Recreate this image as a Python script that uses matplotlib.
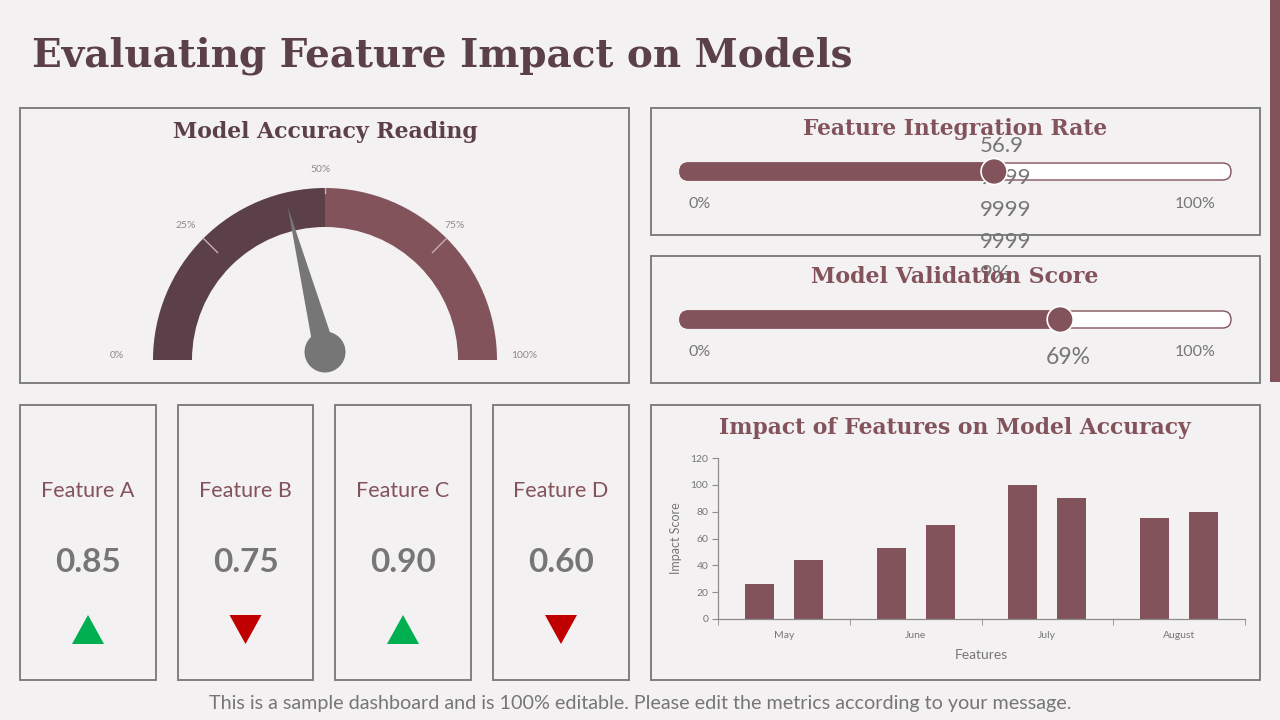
import numpy as np
import matplotlib
matplotlib.use("Agg")
import matplotlib.pyplot as plt
from matplotlib.patches import Rectangle, Wedge, Polygon, Circle, FancyBboxPatch

# ---------------- data ----------------
title = "Evaluating Feature Impact on Models"
gauge_title = "Model Accuracy Reading"
gauge_value = 42          # percent
gauge_ticks = [0, 25, 50, 75, 100]

progress_titles = ["Feature Integration Rate", "Model Validation Score"]
progress_values = [0.57, 0.69]

feature_names = ["Feature A", "Feature B", "Feature C", "Feature D"]
feature_scores = [0.85, 0.75, 0.90, 0.60]
feature_trend = ["up", "down", "up", "down"]

bar_title = "Impact of Features on Model Accuracy"
months = ["May", "June", "July", "August"]
series1 = [26, 53, 100, 75]
series2 = [44, 70, 90, 80]

footer = "This is a sample dashboard and is 100% editable. Please edit the metrics according to your message."

# ---------------- style ----------------
BG = "#F4F1F2"
DARK = "#5C4049"
MAUVE = "#83535B"
GRAY = "#767676"
EDGE = "#7F7F7F"
GREEN = "#00B050"
RED = "#C00000"
SERIF = ["DejaVu Serif"]
SANS = ["Lato", "DejaVu Sans"]

fig = plt.figure(figsize=(12.8, 7.2), dpi=100, facecolor=BG)
ax = fig.add_axes([0, 0, 1, 1])
ax.set_xlim(0, 1280)
ax.set_ylim(720, 0)
ax.axis("off")
ax.set_facecolor(BG)

fit_list = []

def txt(x, y, s, width=None, **kw):
    t = ax.text(x, y, s, **kw)
    if width is not None:
        fit_list.append((t, width))
    return t

def box(x0, y0, x1, y1):
    ax.add_patch(Rectangle((x0, y0), x1 - x0, y1 - y0, fill=False,
                           edgecolor=EDGE, lw=1.4, zorder=1))

# accent bar on right
ax.add_patch(Rectangle((1270, 0), 10, 382, color=MAUVE, lw=0, zorder=1))

# main title
txt(32, 56, title, width=820, ha="left", va="center", family=SERIF,
    weight="bold", color=DARK, fontsize=28)

# ---------------- gauge ----------------
box(20, 108, 629, 383)
txt(325, 132, gauge_title, width=306, ha="center", va="center", family=SERIF,
    weight="bold", color=DARK, fontsize=16)
cx, cy, R, r = 325, 360, 172, 133
# inverted y: visual angle a -> data angle -a
ax.add_patch(Wedge((cx, cy), R, 180, 270, width=R - r, facecolor=DARK, edgecolor="none", zorder=2))
ax.add_patch(Wedge((cx, cy), R, 270, 360, width=R - r, facecolor=MAUVE, edgecolor="none", zorder=2))
for tv in [25, 75]:
    a = np.deg2rad(180 - tv * 1.8)
    ax.plot([cx + (R - 20) * np.cos(a), cx + R * np.cos(a)],
            [cy - (R - 20) * np.sin(a), cy - R * np.sin(a)],
            color="#C9AEB3", lw=1.0, zorder=3)
ax.plot([cx, cx], [cy - R, cy - R + 5], color="#C9AEB3", lw=1.0, zorder=3)
label_pos = {0: (117, 355), 25: (186, 225), 50: (321, 169), 75: (455, 225), 100: (524, 355)}
for tv in gauge_ticks:
    lx, ly = label_pos[tv]
    txt(lx, ly, f"{tv}%", ha="center", va="center", family=SANS, color="#8C8C8C", fontsize=7.5)
# needle
hx, hy = 325, 352
ang = np.deg2rad(180 - gauge_value * 1.8)
L = 150
tip = (hx + L * np.cos(ang), hy - L * np.sin(ang))
perp = np.array([np.sin(ang), np.cos(ang)])
hw = 11
b1 = (hx + hw * perp[0], hy + hw * perp[1])
b2 = (hx - hw * perp[0], hy - hw * perp[1])
ax.add_patch(Polygon([tip, b1, b2], closed=True, facecolor=GRAY, edgecolor="none", zorder=4))
ax.add_patch(Circle((hx, hy), 20.5, facecolor=GRAY, edgecolor="none", zorder=4))

# ---------------- progress bars ----------------
prog_boxes = [(108, 235), (256, 383)]
for i, ((y0, y1), ttl, val) in enumerate(zip(prog_boxes, progress_titles, progress_values)):
    box(651, y0, 1260, y1)
    txt(955, y0 + 21, ttl, width=305 if i == 0 else 289, ha="center", va="center",
        family=SERIF, weight="bold", color=MAUVE, fontsize=15, zorder=6)
    ty = y0 + 63.5
    x0, x1, h = 680, 1231, 17
    ax.add_patch(FancyBboxPatch((x0, ty - h / 2), x1 - x0, h,
                                boxstyle=f"round,pad=0,rounding_size={h/2}",
                                facecolor="white", edgecolor=MAUVE, lw=1.0, zorder=2))
    kx = x0 + (x1 - x0) * val
    ax.add_patch(FancyBboxPatch((x0, ty - h / 2), kx - x0, h,
                                boxstyle=f"round,pad=0,rounding_size={h/2}",
                                facecolor=MAUVE, edgecolor=MAUVE, lw=1.0, zorder=3))
    ax.add_patch(Circle((kx, ty), 13, facecolor=MAUVE, edgecolor="white", lw=1.2, zorder=5))
    txt(700, ty + 32, "0%", ha="center", va="center", family=SANS, color=GRAY, fontsize=11.5)
    txt(1195, ty + 32, "100%", ha="center", va="center", family=SANS, color=GRAY, fontsize=11.5)

# value labels (wrapped as in the original)
s0 = f"{progress_values[0] * 100}%"
chunks = [s0[k:k + 4] for k in range(0, len(s0), 4)]
for j, ch in enumerate(chunks):
    txt(980, 146 + 32 * j, ch, ha="left", va="center", family=SANS, color=GRAY,
        fontsize=16, zorder=4)
txt(1068, 357, f"{round(progress_values[1] * 100)}%", ha="center", va="center",
    family=SANS, color=GRAY, fontsize=16.5, zorder=4)

# ---------------- feature cards ----------------
card_x = [(20, 156), (178, 313), (335, 471), (493, 629)]
for (x0, x1), name, sc, tr in zip(card_x, feature_names, feature_scores, feature_trend):
    box(x0, 405, x1, 680)
    mx = (x0 + x1) / 2
    txt(mx, 491, name, ha="center", va="center", family=SANS, color=MAUVE, fontsize=15.5)
    txt(mx, 563, f"{sc:.2f}", ha="center", va="center", family=SANS, color=GRAY,
        fontsize=24, weight="bold")
    if tr == "up":
        pts = [(mx - 16, 644), (mx + 16, 644), (mx, 615)]
        col = GREEN
    else:
        pts = [(mx - 16, 615), (mx + 16, 615), (mx, 644)]
        col = RED
    ax.add_patch(Polygon(pts, closed=True, facecolor=col, edgecolor="none", zorder=3))

# ---------------- bar chart ----------------
box(651, 405, 1260, 680)
txt(955, 428, bar_title, width=472, ha="center", va="center", family=SERIF,
    weight="bold", color=MAUVE, fontsize=16)
bx = fig.add_axes([718 / 1280, (720 - 619) / 720, (1245 - 718) / 1280, (619 - 458) / 720])
bx.set_facecolor("none")
xs = np.arange(len(months))
bx.bar(xs - 0.186, series1, width=0.22, color=MAUVE, zorder=2)
bx.bar(xs + 0.186, series2, width=0.22, color=MAUVE, zorder=2)
bx.set_xlim(-0.5, len(months) - 0.5)
bx.set_ylim(0, 120)
bx.set_yticks(np.arange(0, 121, 20))
bx.set_xticks(xs)
bx.set_xticklabels(months)
bx.set_xticks(np.arange(-0.5, len(months), 1.0), minor=True)
bx.tick_params(axis="x", which="major", length=0, pad=9, labelsize=7.5, labelcolor=GRAY)
bx.tick_params(axis="x", which="minor", length=4, color="#8C8C8C")
bx.tick_params(axis="y", length=4, color="#8C8C8C", labelsize=7.5, labelcolor=GRAY, pad=3)
for sp in ["top", "right"]:
    bx.spines[sp].set_visible(False)
for sp in ["left", "bottom"]:
    bx.spines[sp].set_color("#8C8C8C")
    bx.spines[sp].set_linewidth(0.9)
for lab in bx.get_xticklabels() + bx.get_yticklabels():
    lab.set_family(SANS)
bx.set_ylabel("Impact Score", family=SANS, color=GRAY, fontsize=9, labelpad=6)
bx.set_xlabel("Features", family=SANS, color=GRAY, fontsize=10, labelpad=6)

# footer
txt(640, 703, footer, width=863, ha="center", va="center", family=SANS, color=GRAY, fontsize=13)

# fit widths
fig.canvas.draw()
rend = fig.canvas.get_renderer()
for t, w in fit_list:
    cur = t.get_window_extent(rend).width
    t.set_fontsize(t.get_fontsize() * w / cur)

fig.savefig("out.png", dpi=100, facecolor=BG)
